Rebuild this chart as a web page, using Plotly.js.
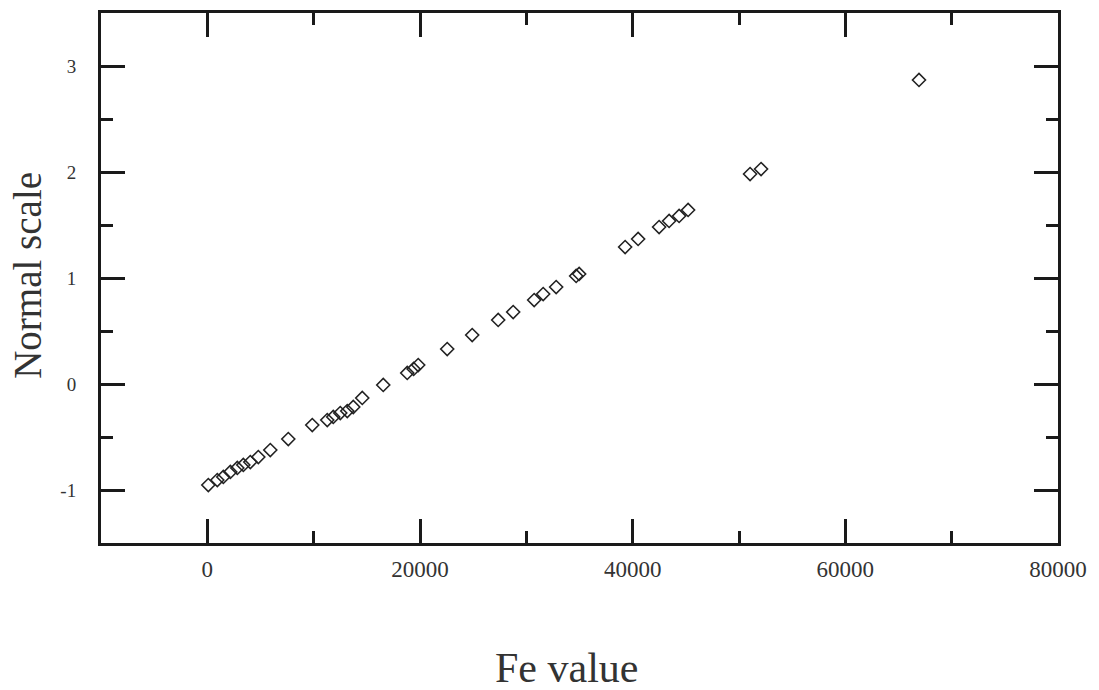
<!DOCTYPE html>
<html><head><meta charset="utf-8">
<script src="https://cdn.plot.ly/plotly-3.0.1.min.js"></script>
<style>html,body{margin:0;padding:0;background:#fff}#chart{width:1099px;height:690px}</style>
</head><body><div id="chart"></div>
<script>
const feValue = [94,940,1504,2162,2820,3384,4042,4794,5922,7614,9870,11280,11844,12502,13160,13724,14570,16544,18800,19400,19834,22560,24910,27354,28764,30738,31584,32806,34686,34968,39292,40514,42488,43428,44368,45214,51042,52076,66928];
const normalScale = [-0.953,-0.906,-0.877,-0.830,-0.792,-0.764,-0.736,-0.689,-0.623,-0.519,-0.387,-0.340,-0.311,-0.274,-0.255,-0.217,-0.132,-0.009,0.104,0.142,0.179,0.330,0.462,0.604,0.679,0.792,0.849,0.915,1.019,1.038,1.292,1.368,1.481,1.538,1.585,1.642,1.981,2.028,2.868];
const xTickVals = [0,20000,40000,60000,80000];
const xTickText = ['0','20000','40000','60000','80000'];
const yTickVals = [-1,0,1,2,3];
const yTickText = ['-1','0','1','2','3'];
const xTitle = 'Fe value';
const yTitle = 'Normal scale';

const serif = 'Liberation Serif, Times New Roman, serif';
const trace = {x: feValue, y: normalScale, type:'scatter', mode:'markers',
  marker:{symbol:'diamond-open', size:10, color:'#222', line:{width:1.6, color:'#222'}}, hoverinfo:'none'};
const axisCommon = {showline:true, linewidth:3, linecolor:'#1a1a1a', mirror:'ticks', ticks:'inside',
  ticklen:24, tickwidth:3, tickcolor:'#1a1a1a', showgrid:false, zeroline:false, tickmode:'array'};
const layout = {
  width:1099, height:690, margin:{l:101, r:41, t:13, b:147},
  paper_bgcolor:'#fff', plot_bgcolor:'#fff', showlegend:false,
  xaxis: Object.assign({}, axisCommon, {range:[-10000,80000], tickvals:xTickVals, ticktext:xTickText,
    ticklabelstandoff:3, tickfont:{family:serif, size:23, color:'#333'},
    minor:{dtick:10000, tick0:0, ticklen:12, tickwidth:3, tickcolor:'#1a1a1a', ticks:'inside'}}),
  yaxis: Object.assign({}, axisCommon, {range:[-1.5,3.5], tickvals:yTickVals, ticktext:yTickText,
    ticklabelstandoff:18, tickfont:{family:serif, size:19, color:'#333'},
    minor:{dtick:0.5, tick0:0, ticklen:12, tickwidth:3, tickcolor:'#1a1a1a', ticks:'inside'}}),
  annotations:[
    {text:xTitle, xref:'paper', yref:'paper', x:0.486, y:-0.236, xanchor:'center', yanchor:'middle',
     showarrow:false, font:{family:serif, size:42, color:'#333'}},
    {text:yTitle, xref:'paper', yref:'paper', x:-0.0763, y:0.506, xanchor:'center', yanchor:'middle',
     textangle:-90, showarrow:false, font:{family:serif, size:39, color:'#333'}}
  ]
};
Plotly.newPlot('chart', [trace], layout, {staticPlot:true});
</script></body></html>
